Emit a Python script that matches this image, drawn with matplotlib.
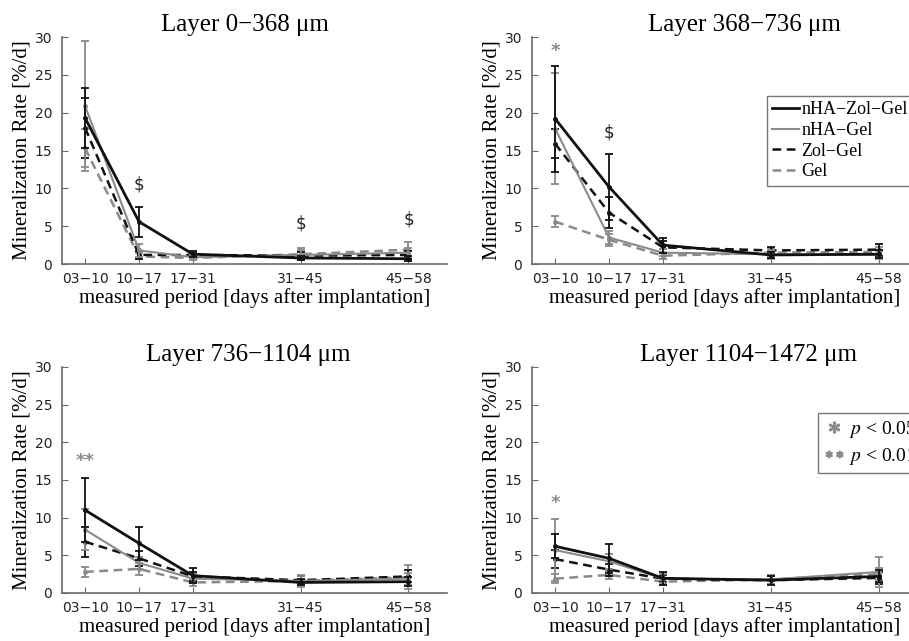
import numpy as np
import matplotlib
matplotlib.use("Agg")
import matplotlib.pyplot as plt
from matplotlib.lines import Line2D

plt.rcParams['mathtext.fontset'] = 'stix'

# x positions = first day of each measured period
x_days = [3, 10, 17, 31, 45]
x_labels = ['03\u221210', '10\u221217', '17\u221231', '31\u221245', '45\u221258']
groups = ['nHA\u2212Zol\u2212Gel', 'nHA\u2212Gel', 'Zol\u2212Gel', 'Gel']
titles = ['Layer 0\u2212368 \u03bcm', 'Layer 368\u2212736 \u03bcm',
          'Layer 736\u22121104 \u03bcm', 'Layer 1104\u22121472 \u03bcm']

# mean mineralization rate [%/d] per layer, one row per group
mean_l1 = [[19.3, 5.6, 1.3, 0.8, 0.7],
           [20.9, 1.8, 0.9, 1.2, 1.5],
           [18.0, 1.2, 1.2, 1.1, 1.2],
           [15.3, 1.0, 0.8, 1.3, 1.9]]
sd_l1 = [[4.0, 2.0, 0.4, 0.3, 0.3],
         [8.6, 0.9, 0.3, 0.6, 0.6],
         [4.0, 0.5, 0.3, 0.5, 0.5],
         [2.5, 0.4, 0.3, 0.8, 1.0]]

mean_l2 = [[19.2, 10.2, 2.5, 1.2, 1.3],
           [17.9, 3.5, 1.5, 1.3, 1.2],
           [15.9, 6.8, 2.2, 1.8, 1.9],
           [5.6, 3.2, 1.1, 1.5, 1.6]]
sd_l2 = [[7.0, 4.4, 1.0, 0.4, 0.5],
         [7.3, 0.8, 0.5, 0.6, 0.5],
         [1.9, 2.1, 0.8, 0.5, 0.8],
         [0.7, 0.8, 0.4, 0.6, 0.6]]

mean_l3 = [[11.0, 6.6, 2.3, 1.4, 1.5],
           [8.4, 4.0, 1.9, 1.6, 1.9],
           [6.8, 4.6, 2.2, 1.7, 2.2],
           [2.8, 3.2, 1.4, 1.6, 2.1]]
sd_l3 = [[4.2, 2.2, 1.0, 0.4, 0.6],
         [2.7, 0.8, 0.6, 0.6, 0.8],
         [2.0, 1.0, 0.6, 0.5, 0.8],
         [0.7, 0.8, 0.5, 0.8, 1.6]]

mean_l4 = [[6.2, 4.6, 1.95, 1.7, 2.2],
           [5.7, 4.2, 1.9, 1.8, 2.8],
           [4.5, 3.1, 1.9, 1.7, 2.0],
           [1.9, 2.4, 1.5, 1.8, 2.5]]
sd_l4 = [[1.6, 1.9, 0.9, 0.6, 0.8],
         [4.1, 1.0, 0.6, 0.6, 2.0],
         [1.2, 0.8, 0.5, 0.5, 0.8],
         [0.6, 0.5, 0.5, 0.6, 0.8]]

# significance marks: (period index, y, text)
marks_l1 = [(1, 10.5, '$'), (3, 5.4, '$'), (4, 5.9, '$')]
marks_l2 = [(0, 28.9, '*'), (1, 17.4, '$')]
marks_l3 = [(0, 18.3, '**')]
marks_l4 = [(0, 12.8, '*')]

means = [mean_l1, mean_l2, mean_l3, mean_l4]
sds = [sd_l1, sd_l2, sd_l3, sd_l4]
marks = [marks_l1, marks_l2, marks_l3, marks_l4]

BLACK = '#111111'
GRAY = '#8a8a8a'
styles = [dict(color=BLACK, lw=2.0, ls='-'),
          dict(color=GRAY, lw=1.5, ls='-'),
          dict(color=BLACK, lw=1.8, ls=(0, (3.5, 2.2))),
          dict(color=GRAY, lw=1.8, ls=(0, (3.5, 2.2)))]

serif = 'Liberation Serif'

fig = plt.figure(figsize=(9.09, 6.41), dpi=100)
positions = [[0.0682, 0.5881, 0.4235, 0.3541],
             [0.5853, 0.5881, 0.4235, 0.3541],
             [0.0682, 0.0749, 0.4235, 0.3526],
             [0.5853, 0.0749, 0.4235, 0.3526]]
title_x = [0.475, 0.553, 0.483, 0.561]

axes = []
for i in range(4):
    ax = fig.add_axes(positions[i])
    axes.append(ax)
    # draw back to front so black solid is on top
    for g in [3, 2, 1, 0]:
        st = styles[g]
        ax.errorbar(x_days, means[i][g], yerr=sds[i][g], color=st['color'],
                    lw=st['lw'], ls=st['ls'], elinewidth=1.3, capsize=3,
                    capthick=1.3, marker='.', ms=5, zorder=3 + (3 - g))
    for k, yv, s in marks[i]:
        if s == '$':
            ax.text(x_days[k], yv, s, ha='center', va='center', fontsize=12,
                    color='#222222', family='DejaVu Sans')
        else:
            ax.text(x_days[k], yv - 0.8, s, ha='center', va='center', fontsize=13,
                    color=GRAY, family='DejaVu Sans', fontweight='bold')

    ax.set_xlim(0, 50)
    ax.set_ylim(0, 30)
    ax.set_xticks(x_days)
    ax.set_xticklabels(x_labels)
    ax.set_yticks(np.arange(0, 31, 5))
    for sp in ['top', 'right']:
        ax.spines[sp].set_visible(False)
    for sp in ['left', 'bottom']:
        ax.spines[sp].set_color('#6a6a6a')
        ax.spines[sp].set_linewidth(1.2)
    ax.tick_params(direction='in', length=4, color='#6a6a6a', labelsize=10,
                   labelcolor='#222222')
    ax.tick_params(axis='y', pad=7)
    ax.tick_params(axis='x', pad=6)
    ax.set_title(titles[i], fontsize=18, family=serif, x=title_x[i], pad=4)
    ax.set_xlabel('measured period [days after implantation]', fontsize=15,
                  family=serif, labelpad=1)
    ax.set_ylabel('Mineralization Rate [%/d]', fontsize=15, family=serif,
                  labelpad=2)

# group legend (top right panel)
handles = [Line2D([], [], color=s['color'], lw=s['lw'], ls=s['ls']) for s in styles]
leg = axes[1].legend(handles, groups, loc='upper left', bbox_to_anchor=(0.61, 0.74),
                     prop={'family': serif, 'size': 13}, handlelength=1.5,
                     handletextpad=0.1, labelspacing=0.2, borderpad=0.3,
                     frameon=True, fancybox=False, edgecolor='#555555',
                     borderaxespad=0)
leg.get_frame().set_linewidth(1.0)

# significance legend (bottom right panel)
sig_handles = [Line2D([], [], ls='none', marker=r'$*$', ms=8, color=GRAY),
               Line2D([], [], ls='none', marker=r'$**$', ms=12, color=GRAY)]
sig_labels = [r'$p$ < 0.05', r'$p$ < 0.01']
leg2 = axes[3].legend(sig_handles, sig_labels, loc='upper left',
                      bbox_to_anchor=(0.743, 0.795),
                      prop={'family': serif, 'size': 14}, handlelength=1.0,
                      handletextpad=0.3, labelspacing=0.3, borderpad=0.3,
                      frameon=True, fancybox=False, edgecolor='#555555',
                      borderaxespad=0)
leg2.get_frame().set_linewidth(1.0)

fig.savefig('out.png', dpi=100)
